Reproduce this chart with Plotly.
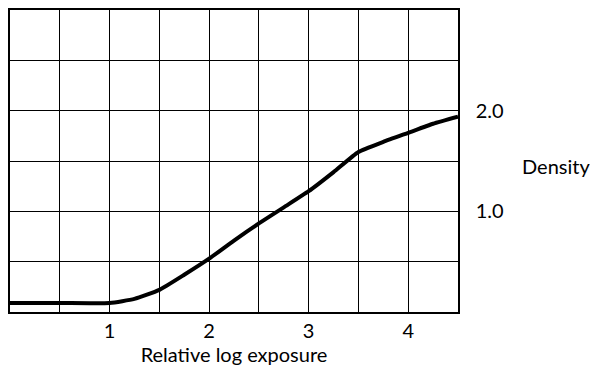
import plotly.graph_objects as go

log_exposure = [0.0, 0.5, 1.0, 1.25, 1.5, 1.75, 2.0, 2.25, 2.5, 2.75, 3.0, 3.25, 3.5, 3.75, 4.0, 4.25, 4.5]
density = [0.09, 0.09, 0.09, 0.13, 0.22, 0.37, 0.53, 0.71, 0.88, 1.04, 1.20, 1.39, 1.59, 1.69, 1.78, 1.87, 1.94]

x_tick_vals = [1, 2, 3, 4]
x_tick_text = ["1", "2", "3", "4"]
y_tick_vals = [1.0, 2.0]
y_tick_text = ["1.0", "2.0"]

FONT = "Lato, 'DejaVu Sans', sans-serif"
FS = 20

fig = go.Figure()
fig.add_trace(go.Scatter(
    x=log_exposure, y=density, mode="lines",
    line=dict(color="black", width=4, shape="spline", smoothing=0.5),
    showlegend=False, hoverinfo="skip",
))

fig.update_layout(
    width=590, height=366,
    margin=dict(l=8, r=132, t=8, b=54),
    paper_bgcolor="white", plot_bgcolor="white",
    font=dict(family=FONT, size=FS, color="black"),
    xaxis=dict(
        range=[0, 4.5], tickvals=x_tick_vals, ticktext=x_tick_text,
        showgrid=True, gridcolor="black", gridwidth=1.3,
        minor=dict(dtick=0.5, tick0=0, showgrid=True, gridcolor="black", gridwidth=1.3),
        showline=True, linecolor="black", linewidth=1.5, mirror=True,
        ticks="", zeroline=False, fixedrange=True,
        title=dict(text="Relative log exposure", standoff=2, font=dict(size=FS)),
        tickfont=dict(size=FS),
    ),
    yaxis=dict(
        range=[0, 3], side="right", tickvals=y_tick_vals, ticktext=y_tick_text,
        showgrid=True, gridcolor="black", gridwidth=1.3,
        minor=dict(dtick=0.5, tick0=0, showgrid=True, gridcolor="black", gridwidth=1.3),
        showline=True, linecolor="black", linewidth=1.5, mirror=True,
        ticks="", zeroline=False, fixedrange=True,
        ticklabelstandoff=12, tickfont=dict(size=FS),
    ),
    annotations=[dict(
        text="Density", xref="paper", yref="paper", x=1, y=0.485,
        xanchor="left", yanchor="middle", xshift=62, showarrow=False,
        font=dict(size=FS),
    )],
)

fig.write_html("out.html")
